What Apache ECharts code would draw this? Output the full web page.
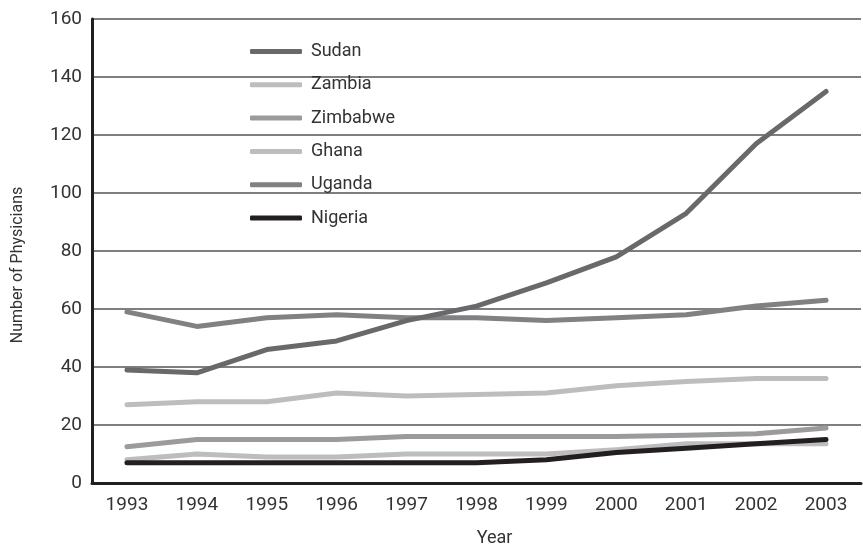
<!DOCTYPE html>
<html><head><meta charset="utf-8">
<script src="https://cdn.jsdelivr.net/npm/echarts@6/dist/echarts.min.js"></script>
<style>html,body{margin:0;padding:0;background:#fff}#c{width:863px;height:552px}</style>
</head><body><div id="c"></div>
<script>
const years = ['1993','1994','1995','1996','1997','1998','1999','2000','2001','2002','2003'];
const sudan    = [39, 38, 46, 49, 56, 61, 69, 78, 93, 117, 135];
const zambia   = [27, 28, 28, 31, 30, 30.5, 31, 33.5, 35, 36, 36];
const zimbabwe = [12.5, 15, 15, 15, 16, 16, 16, 16, 16.5, 17, 19];
const ghana    = [8, 10, 9, 9, 10, 10, 10, 11.5, 13.5, 13.5, 13.5];
const uganda   = [59, 54, 57, 58, 57, 57, 56, 57, 58, 61, 63];
const nigeria  = [7, 7, 7, 7, 7, 7, 8, 10.5, 12, 13.5, 15];
const yTicks = [0, 20, 40, 60, 80, 100, 120, 140, 160];

const FONT = 'Roboto, "Liberation Sans", sans-serif';
const TXT = '#333333';
function s(name, data, color) {
  return { name, type: 'line', data, symbol: 'none', showSymbol: false,
    lineStyle: { color, width: 5, cap: 'round', join: 'round' }, itemStyle: { color } };
}
const chart = echarts.init(document.getElementById('c'));
chart.setOption({
  animation: false,
  backgroundColor: '#fff',
  grid: { left: 92, right: 2, top: 19, bottom: 67, containLabel: false },
  legend: {
    orient: 'vertical', left: 245, top: 37,
    icon: 'roundRect', itemWidth: 52, itemHeight: 5, itemGap: 14.3,
    textStyle: { fontFamily: FONT, fontSize: 18, lineHeight: 19, color: TXT, padding: [0, 0, 0, 4] },
    data: ['Sudan', 'Zambia', 'Zimbabwe', 'Ghana', 'Uganda', 'Nigeria']
  },
  xAxis: {
    type: 'category', data: years, boundaryGap: true,
    name: 'Year', nameLocation: 'middle', nameGap: 46,
    nameTextStyle: { fontFamily: FONT, fontSize: 18, color: TXT, padding: [0, 0, 0, 36] },
    axisLine: { lineStyle: { color: '#231f20', width: 3 } },
    axisTick: { show: false },
    axisLabel: { fontFamily: FONT, fontSize: 19, color: TXT, margin: 13 }
  },
  yAxis: {
    type: 'value', min: yTicks[0], max: yTicks[yTicks.length - 1], interval: 20,
    name: 'Number of Physicians', nameLocation: 'middle', nameGap: 66,
    nameTextStyle: { fontFamily: FONT, fontSize: 16, color: TXT, padding: [0, 28, 0, 0] },
    axisLine: { show: true, lineStyle: { color: '#231f20', width: 3 } },
    axisTick: { show: false },
    axisLabel: { fontFamily: FONT, fontSize: 19, color: TXT, margin: 10 },
    splitLine: { lineStyle: { color: '#7f7f82', width: 2 } }
  },
  series: [
    s('Zambia', zambia, '#bdbdbf'),
    s('Ghana', ghana, '#bdbdbf'),
    s('Zimbabwe', zimbabwe, '#9b9b9d'),
    s('Uganda', uganda, '#818184'),
    s('Nigeria', nigeria, '#231f20'),
    s('Sudan', sudan, '#69696b')
  ]
});
</script></body></html>
